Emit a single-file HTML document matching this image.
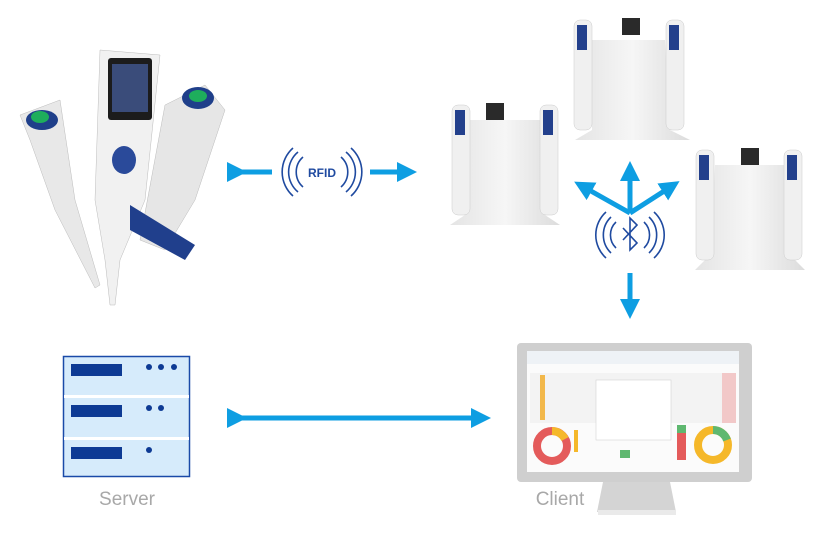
<!DOCTYPE html>
<html><head><meta charset="utf-8"><style>
html,body{margin:0;padding:0;background:#fff}
svg{display:block}
text{font-family:"Liberation Sans",sans-serif}
</style></head><body>
<svg width="832" height="560" viewBox="0 0 832 560" xmlns="http://www.w3.org/2000/svg">
<defs>
<marker id="ah" markerWidth="4" markerHeight="4" refX="2.2" refY="2" orient="auto" markerUnits="strokeWidth"><path d="M0,0 L4,2 L0,4 z" fill="#0e9ee2"/></marker>
<linearGradient id="dock" x1="0" x2="1"><stop offset="0" stop-color="#e4e4e4"/><stop offset=".5" stop-color="#f6f6f6"/><stop offset="1" stop-color="#dcdcdc"/></linearGradient>
</defs>
<g stroke="#0e9ee2" stroke-width="5" fill="none">
<line x1="238" y1="172" x2="272" y2="172" marker-start="url(#ah)"/>
<line x1="370" y1="172" x2="408" y2="172" marker-end="url(#ah)"/>
<line x1="238" y1="418" x2="482" y2="418" marker-start="url(#ah)" marker-end="url(#ah)"/>
<line x1="630" y1="213" x2="630" y2="170" marker-end="url(#ah)"/>
<line x1="630" y1="213" x2="582" y2="186" marker-end="url(#ah)"/>
<line x1="630" y1="213" x2="672" y2="186" marker-end="url(#ah)"/>
<line x1="630" y1="273" x2="630" y2="310" marker-end="url(#ah)"/>
</g>
<!-- RFID waves -->
<g stroke="#1f4aa0" stroke-width="1.6" fill="none">
<path d="M303,157 a20,20 0 0 0 0,30"/><path d="M298,152 a26,26 0 0 0 0,40"/><path d="M293,148 a32,32 0 0 0 0,48"/>
<path d="M341,157 a20,20 0 0 1 0,30"/><path d="M346,152 a26,26 0 0 1 0,40"/><path d="M351,148 a32,32 0 0 1 0,48"/>
</g>
<text x="322" y="177" font-size="12" font-weight="bold" fill="#1f4aa0" text-anchor="middle">RFID</text>
<!-- Bluetooth -->
<g stroke="#1f4aa0" stroke-width="1.6" fill="none">
<path d="M616,222 a18,18 0 0 0 0,26"/><path d="M611,217 a25,25 0 0 0 0,36"/><path d="M606,212 a31,31 0 0 0 0,46"/>
<path d="M644,222 a18,18 0 0 1 0,26"/><path d="M649,217 a25,25 0 0 1 0,36"/><path d="M654,212 a31,31 0 0 1 0,46"/>
<path d="M623,228 L637,243 L630,250 L630,218 L637,225 L623,240"/>
</g>
<!-- Server -->
<rect x="63.5" y="356.5" width="126" height="120" fill="#d6ebfb" stroke="#1a4aa8" stroke-width="1.5"/>
<rect x="64" y="395" width="125" height="3" fill="#fff"/><rect x="64" y="437" width="125" height="3" fill="#fff"/>
<g fill="#0d3a94"><rect x="71" y="364" width="51" height="12"/><rect x="71" y="405" width="51" height="12"/><rect x="71" y="447" width="51" height="12"/>
<circle cx="149" cy="367" r="3"/><circle cx="161" cy="367" r="3"/><circle cx="174" cy="367" r="3"/>
<circle cx="149" cy="408" r="3"/><circle cx="161" cy="408" r="3"/><circle cx="149" cy="450" r="3"/></g>
<text x="127" y="505" font-size="19" fill="#a8a8a8" text-anchor="middle">Server</text>
<!-- Client monitor -->
<path d="M603,482 L670,482 L676,512 L597,512 z" fill="#d4d4d4"/>
<rect x="598" y="510" width="78" height="5" fill="#eaeaea"/>
<rect x="517" y="343" width="235" height="139" rx="4" fill="#cfcfcf"/>
<rect x="527" y="351" width="212" height="121" fill="#fbfbfb"/>
<rect x="527" y="351" width="212" height="13" fill="#eef2f6"/>
<rect x="530" y="373" width="206" height="50" fill="#f3f3f3"/>
<rect x="722" y="373" width="14" height="50" fill="#f2c8c8"/>
<rect x="540" y="375" width="5" height="45" fill="#f2b84b"/>
<rect x="596" y="380" width="75" height="60" fill="#fff" stroke="#ccc" stroke-width=".5"/>
<circle cx="552" cy="446" r="15" fill="none" stroke="#e45b5b" stroke-width="8"/>
<path d="M552,431 a15,15 0 0 1 13,8" stroke="#f5b82a" stroke-width="8" fill="none"/>
<circle cx="713" cy="445" r="15" fill="none" stroke="#f5b82a" stroke-width="8"/>
<path d="M713,430 a15,15 0 0 1 14,10" stroke="#5fb870" stroke-width="8" fill="none"/>
<rect x="677" y="432" width="9" height="28" fill="#e45b5b"/><rect x="677" y="425" width="9" height="8" fill="#5fb870"/>
<rect x="620" y="450" width="10" height="8" fill="#5fb870"/>
<rect x="574" y="430" width="4" height="22" fill="#f5b82a"/>
<text x="560" y="505" font-size="19" fill="#a8a8a8" text-anchor="middle">Client</text>
<!-- Docks -->
<g>
<path d="M470,120 L540,120 L545,215 L560,225 L450,225 L465,215 z" fill="url(#dock)"/>
<rect x="452" y="105" width="18" height="110" rx="6" fill="#f0f0f0" stroke="#ccc" stroke-width=".5"/>
<rect x="540" y="105" width="18" height="110" rx="6" fill="#f0f0f0" stroke="#ccc" stroke-width=".5"/>
<rect x="486" y="103" width="18" height="17" fill="#2a2a2a"/>
<rect x="455" y="110" width="10" height="25" fill="#23408c"/><rect x="543" y="110" width="10" height="25" fill="#23408c"/>
<path d="M592,40 L665,40 L670,130 L690,140 L575,140 L592,130 z" fill="url(#dock)"/>
<rect x="574" y="20" width="18" height="110" rx="6" fill="#f0f0f0" stroke="#ccc" stroke-width=".5"/>
<rect x="666" y="20" width="18" height="110" rx="6" fill="#f0f0f0" stroke="#ccc" stroke-width=".5"/>
<rect x="622" y="18" width="18" height="17" fill="#2a2a2a"/>
<rect x="577" y="25" width="10" height="25" fill="#23408c"/><rect x="669" y="25" width="10" height="25" fill="#23408c"/>
<path d="M715,165 L785,165 L790,255 L805,270 L695,270 L710,255 z" fill="url(#dock)"/>
<rect x="696" y="150" width="18" height="110" rx="6" fill="#f0f0f0" stroke="#ccc" stroke-width=".5"/>
<rect x="784" y="150" width="18" height="110" rx="6" fill="#f0f0f0" stroke="#ccc" stroke-width=".5"/>
<rect x="741" y="148" width="18" height="17" fill="#2a2a2a"/>
<rect x="699" y="155" width="10" height="25" fill="#23408c"/><rect x="787" y="155" width="10" height="25" fill="#23408c"/>
</g>
<!-- Pipettes -->
<g>
<path d="M20,115 L60,100 L75,200 L100,285 L95,288 L55,210 L30,140 z" fill="#e8e8e8" stroke="#bbb" stroke-width=".5"/>
<ellipse cx="42" cy="120" rx="16" ry="10" fill="#1f3f8a"/><ellipse cx="40" cy="117" rx="9" ry="6" fill="#1eae5c"/>
<path d="M100,50 L160,55 L145,200 L120,260 L115,305 L110,305 L105,260 L95,200 z" fill="#f1f1f1" stroke="#bbb" stroke-width=".5"/>
<rect x="108" y="58" width="44" height="62" rx="3" fill="#1c1c1c"/>
<rect x="112" y="64" width="36" height="48" fill="#3a4c7a"/>
<ellipse cx="124" cy="160" rx="12" ry="14" fill="#2a4a9a"/>
<path d="M165,105 L205,85 L225,110 L195,200 L165,250 L140,240 z" fill="#e6e6e6" stroke="#bbb" stroke-width=".5"/>
<ellipse cx="198" cy="98" rx="16" ry="11" fill="#1f3f8a"/><ellipse cx="198" cy="96" rx="9" ry="6" fill="#1eae5c"/>
<path d="M130,205 L195,245 L185,260 L130,230 z" fill="#203f8c"/>
</g>
</svg>
</body></html>
